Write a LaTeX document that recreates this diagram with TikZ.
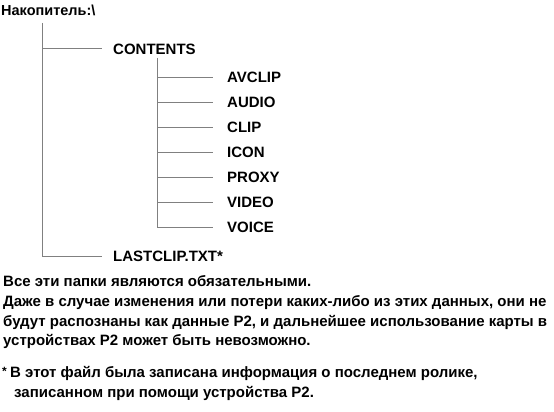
\documentclass[tikz,border=0pt]{standalone}
\usepackage{fontspec}
\setmainfont{Liberation Sans}
\begin{document}
\begin{tikzpicture}[x=1pt,y=-1pt,
  treeline/.style={draw=black!50,line width=1pt},
  lbl/.style={anchor=base west,inner sep=0pt,font=\fontsize{15}{18}\selectfont\bfseries},
  para/.style={anchor=base west,inner sep=0pt,font=\fontsize{15}{18}\selectfont\bfseries}]
\useasboundingbox (0,0) rectangle (554,412);
\node[lbl,font=\fontsize{14.5}{18}\selectfont\bfseries] (root) at (1,15.5) {Накопитель:\textbackslash};
\coordinate (v1top) at (42,23);
\coordinate (v1bot) at (42,256);
\coordinate (hc) at (42,49);
\node[lbl] (contents) at (113,54.4) {CONTENTS};
\node[lbl] (last) at (113,261.4) {LASTCLIP.TXT*};
\draw[treeline] (v1top) -- (v1bot);
\draw[treeline] (hc) -- (102,49);
\draw[treeline] (v1bot) -- (102,256);
\coordinate (v2top) at (157,58);
\coordinate (v2bot) at (157,227.5);
\draw[treeline] (v2top) -- (v2bot);
\foreach \name/\y in {AVCLIP/77.5,AUDIO/102.5,CLIP/127.5,ICON/152.5,PROXY/177.5,VIDEO/202.5,VOICE/227.5}{
  \node[lbl] (\name) at (227,\y+5.4) {\name};
  \draw[treeline] (157,\y) -- (213,\y);
}
\node[para] (p1) at (3,286.5) {Все эти папки являются обязательными.};
\node[para] (p2) at (3,306.5) {Даже в случае изменения или потери каких-либо из этих данных, они не};
\node[para] (p3) at (3,326) {будут распознаны как данные P2, и дальнейшее использование карты в};
\node[para] (p4) at (3,345.5) {устройствах P2 может быть невозможно.};
\node[para,font=\fontsize{12}{14}\selectfont\bfseries] (star) at (2,375) {*};
\node[para] (f1) at (10,377.5) {В этот файл была записана информация о последнем ролике,};
\node[para] (f2) at (14,397) {записанном при помощи устройства P2.};
\end{tikzpicture}
\end{document}
